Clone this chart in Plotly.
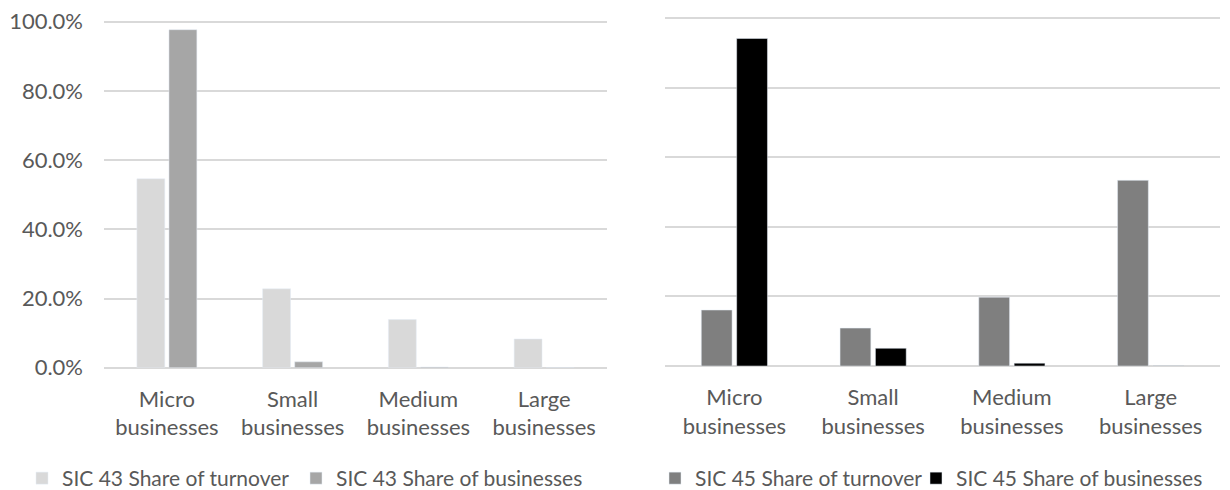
import plotly.graph_objects as go

categories = ["Micro<br>businesses", "Small<br>businesses", "Medium<br>businesses", "Large<br>businesses"]
sic43_turnover = [0.546, 0.228, 0.139, 0.083]
sic43_businesses = [0.977, 0.017, 0.002, 0.0003]
sic45_turnover = [0.161, 0.109, 0.198, 0.534]
sic45_businesses = [0.942, 0.051, 0.008, 0.0004]
y_ticks = [0, 0.2, 0.4, 0.6, 0.8, 1.0]

FONT = "Lato"
TXT = "#595959"
GRID = "#d9d9d9"
W, H = 1222, 482  # page body has an 8px margin

fig = go.Figure()
fig.add_trace(go.Bar(x=categories, y=sic43_turnover, name="SIC 43 Share of turnover",
                     marker_color="#d9d9d9", xaxis="x", yaxis="y", legend="legend"))
fig.add_trace(go.Bar(x=categories, y=sic43_businesses, name="SIC 43 Share of businesses",
                     marker_color="#a6a6a6", xaxis="x", yaxis="y", legend="legend2"))
fig.add_trace(go.Bar(x=categories, y=sic45_turnover, name="SIC 45 Share of turnover",
                     marker_color="#7f7f7f", xaxis="x2", yaxis="y2", legend="legend3"))
fig.add_trace(go.Bar(x=categories, y=sic45_businesses, name="SIC 45 Share of businesses",
                     marker_color="#000000", xaxis="x2", yaxis="y2", legend="legend4"))
fig.update_traces(showlegend=True)

xcommon = dict(showgrid=False, showline=False, zeroline=False, ticks="",
               tickfont=dict(family=FONT, size=22, color=TXT), ticklabelstandoff=16)
ycommon = dict(range=[0, 1.003], tickvals=y_ticks, showgrid=True, gridcolor=GRID, gridwidth=2,
               zeroline=True, zerolinecolor=GRID, zerolinewidth=2, showline=False, ticks="")

def leg(xpx):
    return dict(orientation="h", x=xpx/W, xanchor="left", y=(H-450)/H, yanchor="top",
                font=dict(family=FONT, size=21, color=TXT), bgcolor="rgba(0,0,0,0)",
                itemwidth=30, tracegroupgap=0)

fig.update_layout(
    width=W, height=H, showlegend=True,
    margin=dict(l=0, r=0, t=0, b=0, autoexpand=False),
    paper_bgcolor="white", plot_bgcolor="white",
    barmode="group", bargap=0.49, bargroupgap=0.13,
    xaxis=dict(domain=[96/W, 599/W], anchor="y", **xcommon),
    yaxis=dict(domain=[1-359.7/H, 1-12.7/H], anchor="x", tickformat=".1%",
               tickfont=dict(family=FONT, size=22, color=TXT), ticklabelstandoff=20,
               ticklabeloverflow="allow", **ycommon),
    xaxis2=dict(domain=[657/W, 1212/W], anchor="y2", **xcommon),
    yaxis2=dict(domain=[1-358/H, 1-9.3/H], anchor="x2", showticklabels=False, **ycommon),
    legend=leg(14), legend2=leg(288), legend3=leg(647), legend4=leg(908),
)

fig.write_html("out.html")
